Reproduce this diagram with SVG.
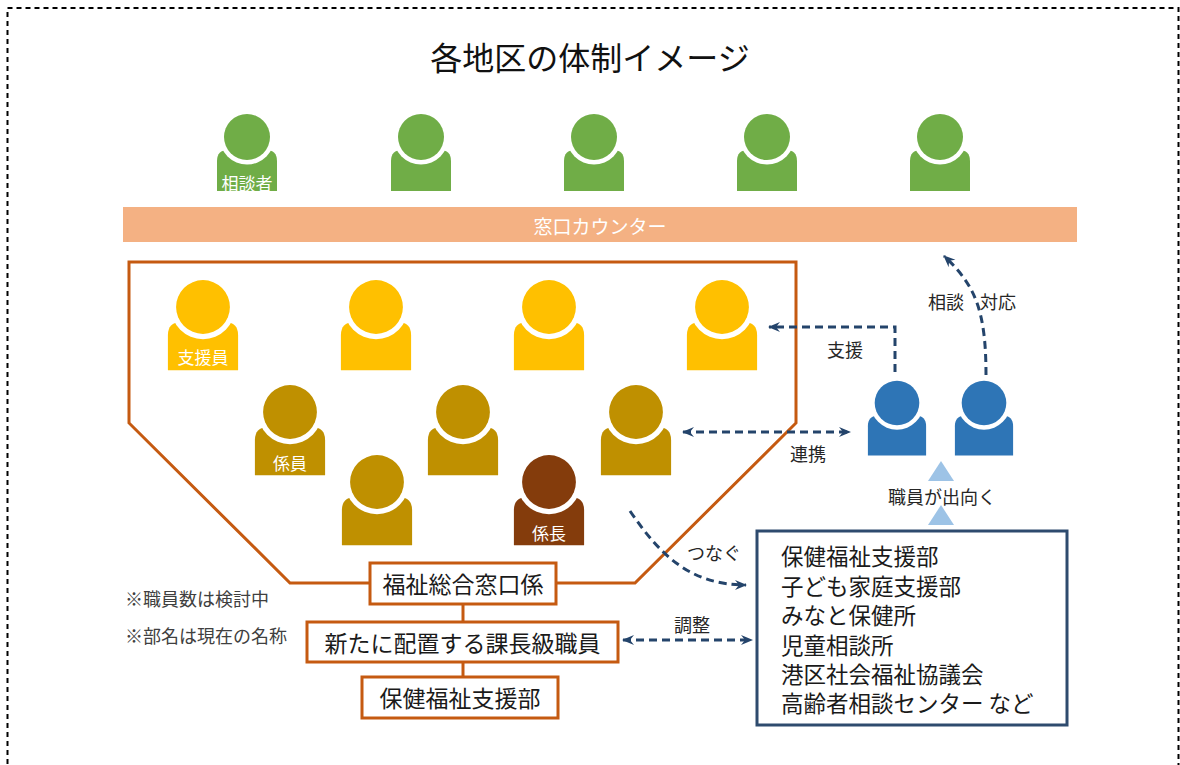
<svg xmlns="http://www.w3.org/2000/svg" xmlns:xlink="http://www.w3.org/1999/xlink" width="1180" height="765" viewBox="0 0 1180 765">
<style>
text{font-family:"Noto Sans CJK JP","Noto Sans",sans-serif;dominant-baseline:central}
.title{font-size:32px;fill:#111;text-anchor:middle}
.lbl{font-size:17px;fill:#fff;text-anchor:middle}
.ctr{font-size:19px;fill:#fff;text-anchor:middle}
.box{fill:#fff;stroke:#C55A11;stroke-width:3}
.boxt{font-size:23px;fill:#1a1a1a;text-anchor:middle}
.note{font-size:18px;fill:#404040}
.al{font-size:18px;fill:#262626;text-anchor:middle}
.list{font-size:22.5px;fill:#1a1a1a}
.dash{fill:none;stroke:#24446B;stroke-width:3;stroke-dasharray:8 5}
.org{fill:none;stroke:#C55A11;stroke-width:3}
.tri{fill:#9DC3E6}
</style>
<defs>
<g id="person">
<path d="M-30 54 V24 Q-30 13 -19 13 H19 Q30 13 30 24 V54 Z"/>
<circle r="27.5" fill="#fff"/>
<circle r="23"/>
</g>
<marker id="ah" markerUnits="userSpaceOnUse" viewBox="0 0 12 12" markerWidth="12" markerHeight="12" refX="11" refY="6" orient="auto-start-reverse">
<path d="M0 1 L12 6 L0 11 L4 6 Z" fill="#24446B"/>
</marker>
</defs>
<rect x="7.5" y="8" width="1171" height="800" fill="none" stroke="#000" stroke-width="2" stroke-dasharray="5 4"/>
<text class="title" x="590" y="56">各地区の体制イメージ</text>

<g id="counter">
<rect x="123" y="207" width="954" height="35" fill="#F4B183"/>
<text class="ctr" x="600" y="225">窓口カウンター</text>
</g>

<g id="office-area">
<polygon class="org" points="129,262 796,262 796,423 635,583 290,583 129,423"/>
</g>

<g id="consultant-1"><use xlink:href="#person" href="#person" transform="translate(247,137)" fill="#70AD47"/><text class="lbl" x="247" y="182">相談者</text></g>
<g id="consultant-2"><use xlink:href="#person" href="#person" transform="translate(421,137)" fill="#70AD47"/></g>
<g id="consultant-3"><use xlink:href="#person" href="#person" transform="translate(594,137)" fill="#70AD47"/></g>
<g id="consultant-4"><use xlink:href="#person" href="#person" transform="translate(767,137)" fill="#70AD47"/></g>
<g id="consultant-5"><use xlink:href="#person" href="#person" transform="translate(940,137)" fill="#70AD47"/></g>

<g id="support-1"><use xlink:href="#person" href="#person" transform="translate(203,307) scale(1.17)" fill="#FFC000"/><text class="lbl" x="203" y="356">支援員</text></g>
<g id="support-2"><use xlink:href="#person" href="#person" transform="translate(376,307) scale(1.17)" fill="#FFC000"/></g>
<g id="support-3"><use xlink:href="#person" href="#person" transform="translate(549,307) scale(1.17)" fill="#FFC000"/></g>
<g id="support-4"><use xlink:href="#person" href="#person" transform="translate(722,307) scale(1.17)" fill="#FFC000"/></g>

<g id="staff-1"><use xlink:href="#person" href="#person" transform="translate(290,412) scale(1.17)" fill="#BF9000"/><text class="lbl" x="290" y="462">係員</text></g>
<g id="staff-2"><use xlink:href="#person" href="#person" transform="translate(463,412) scale(1.17)" fill="#BF9000"/></g>
<g id="staff-3"><use xlink:href="#person" href="#person" transform="translate(636,412) scale(1.17)" fill="#BF9000"/></g>
<g id="staff-4"><use xlink:href="#person" href="#person" transform="translate(377,482) scale(1.17)" fill="#BF9000"/></g>
<g id="chief"><use xlink:href="#person" href="#person" transform="translate(549,482) scale(1.17)" fill="#843C0C"/><text class="lbl" x="549" y="532">係長</text></g>

<g id="outreach-1"><use xlink:href="#person" href="#person" transform="translate(897,403) scale(0.97)" fill="#2E75B6"/></g>
<g id="outreach-2"><use xlink:href="#person" href="#person" transform="translate(984,403) scale(0.97)" fill="#2E75B6"/></g>

<g id="outreach-note">
<polygon class="tri" points="941,461 928,481 954,481"/>
<polygon class="tri" points="941,505 928,525 954,525"/>
<text class="al" x="942" y="496">職員が出向く</text>
</g>

<g id="box-madoguchi"><rect class="box" x="370" y="563" width="186" height="41"/><text class="boxt" x="463" y="583">福祉総合窓口係</text></g>
<g id="box-kacho"><rect class="box" x="307" y="622" width="311" height="40"/><text class="boxt" x="462.5" y="642">新たに配置する課長級職員</text></g>
<g id="box-bu"><rect class="box" x="362" y="677" width="196" height="41"/><text class="boxt" x="460" y="697">保健福祉支援部</text></g>

<g id="notes">
<text class="note" x="125" y="598">※職員数は検討中</text>
<text class="note" x="125" y="635">※部名は現在の名称</text>
</g>

<g id="partners">
<rect x="757" y="531" width="310" height="194" fill="#fff" stroke="#2E4B6E" stroke-width="3"/>
<text class="list" x="781" y="555">保健福祉支援部</text>
<text class="list" x="781" y="584.5">子ども家庭支援部</text>
<text class="list" x="781" y="614">みなと保健所</text>
<text class="list" x="781" y="643.5">児童相談所</text>
<text class="list" x="781" y="673">港区社会福祉協議会</text>
<text class="list" x="781" y="702">高齢者相談センター など</text>
</g>

<g id="connectors">
<line class="org" x1="463" y1="604" x2="463" y2="622"/>
<line class="org" x1="463" y1="662" x2="463" y2="677"/>
<path class="dash" d="M895 372 V327 H769" marker-end="url(#ah)"/>
<path class="dash" d="M986 375 C986 310 975 285 944 256" marker-end="url(#ah)"/>
<path class="dash" d="M683 432 H850" marker-start="url(#ah)" marker-end="url(#ah)"/>
<path class="dash" d="M630 511 C660 555 690 585 746 585" marker-end="url(#ah)"/>
<path class="dash" d="M623 640 H752" marker-start="url(#ah)" marker-end="url(#ah)"/>
<text class="al" x="845" y="349">支援</text>
<text class="al" x="948" y="301">相談 <tspan x="998">対応</tspan></text>
<text class="al" x="808" y="453">連携</text>
<text class="al" x="714" y="552">つなぐ</text>
<text class="al" x="692" y="624">調整</text>
</g>
</svg>
